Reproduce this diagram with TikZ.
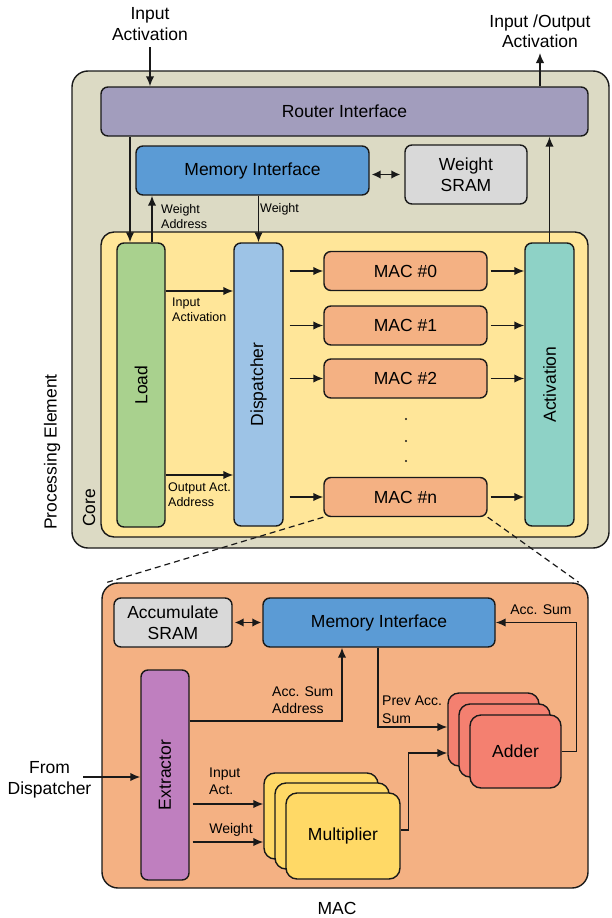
\documentclass[tikz,border=0pt]{standalone}
\usepackage{fontspec}
\setmainfont{Liberation Sans}
\usetikzlibrary{arrows.meta,calc}
\definecolor{peC}{RGB}{220,218,196}
\definecolor{coreC}{RGB}{255,230,153}
\definecolor{routerC}{RGB}{162,157,189}
\definecolor{memC}{RGB}{91,155,213}
\definecolor{sramC}{RGB}{217,217,217}
\definecolor{loadC}{RGB}{169,209,142}
\definecolor{dispC}{RGB}{157,195,230}
\definecolor{macC}{RGB}{244,177,131}
\definecolor{actC}{RGB}{142,210,198}
\definecolor{extC}{RGB}{191,127,191}
\definecolor{addC}{RGB}{244,128,112}
\definecolor{mulC}{RGB}{255,217,102}
\definecolor{lineC}{RGB}{25,25,25}
\begin{document}
\begin{tikzpicture}[x=1pt,y=-1pt,
  box/.style={draw=lineC, line width=1.4pt, rounded corners=7pt, inner sep=0pt, align=center, font=\fontsize{17.5}{21}\selectfont},
  arr/.style={draw=lineC, line width=1.5pt, -{Latex[length=10pt,width=8.5pt]}},
  darr/.style={draw=lineC, line width=1.5pt, {Latex[length=9pt,width=8.5pt]}-{Latex[length=9pt,width=8.5pt]}},
  lbl/.style={font=\fontsize{12.5}{15}\selectfont, align=left, inner sep=0pt},
  mlbl/.style={font=\fontsize{14}{17.5}\selectfont, align=left, inner sep=0pt},
  big/.style={font=\fontsize{17.5}{20.5}\selectfont, align=center, inner sep=0pt},
  dsh/.style={draw=lineC, line width=1.2pt, dash pattern=on 6pt off 4pt}]
\useasboundingbox (0,0) rectangle (611,918);

% Processing element
\node[box, fill=peC, rounded corners=16pt, minimum width=537, minimum height=477] (pe) at (340.5,309.5) {};
\node[box, fill=routerC, minimum width=487, minimum height=49] (router) at (344.5,111.5) {Router Interface};
\node[box, fill=memC, minimum width=233, minimum height=49, text height=12.5pt, text depth=2pt] (memif) at (252.5,170.5) {Memory Interface};
\node[box, fill=sramC, minimum width=122, minimum height=59] (wsram) at (466,174.5) {Weight\\SRAM};
\node[box, fill=coreC, rounded corners=13pt, minimum width=487, minimum height=305] (core) at (344.5,384.5) {};
\node[box, fill=loadC, minimum width=48, minimum height=284] (load) at (141,385) {};
\node[big, rotate=90] (loadT) at (load.center) {Load};
\node[box, fill=dispC, minimum width=49, minimum height=283] (disp) at (258.5,384.5) {};
\node[big, rotate=90] (dispT) at (disp.center) {Dispatcher};
\node[box, fill=actC, minimum width=49, minimum height=283] (act) at (549.5,384.5) {};
\node[big, rotate=90] (actT) at (act.center) {Activation};
\node[box, fill=macC, minimum width=163, minimum height=39] (mac0) at (405.5,271) {MAC \#0};
\node[box, fill=macC, minimum width=163, minimum height=39] (mac1) at (405.5,325.5) {MAC \#1};
\node[box, fill=macC, minimum width=163, minimum height=39] (mac2) at (405.5,378.5) {MAC \#2};
\node[box, fill=macC, minimum width=163, minimum height=39] (macn) at (405.5,497) {MAC \#n};
\fill[lineC] (406,419) circle (1.1) (406,441) circle (1.1) (406,461) circle (1.1);

\node[big] (inA) at (150,24) {Input\\Activation};
\node[big] (ioA) at (540,31) {Input /Output\\Activation};
\node[big, rotate=90] (peT) at (52,452) {Processing Element};
\node[big, rotate=90] (coreT) at (89,508) {Core};

\draw[arr] (inA.south |- 0,47) -- (inA.south |- router.north);
\draw[arr] (ioA.south |- router.north) -- (ioA.south |- 0,53);
\draw[arr] (router.south -| 130,0) -- (load.north -| 130,0);
\draw[arr] (load.north -| 152,0) -- (memif.south -| 152,0);
\draw[arr] (memif.south -| disp.north) -- (disp.north);
\draw[darr, shorten <=2pt, shorten >=4pt] (memif.east |- wsram.west) -- (wsram.west);
\draw[arr] (act.north) -- (act.north |- router.south);
\node[lbl, anchor=west] (wadr) at (161,216.5) {Weight\\Address};
\node[lbl, anchor=west] (wl) at (260,209) {Weight};

\draw[arr] (load.east |- 0,291) -- (disp.west |- 0,291);
\draw[arr] (load.east |- 0,475) -- (disp.west |- 0,475);
\node[lbl, anchor=west] (ial) at (172,310) {Input\\Activation};
\node[lbl, anchor=west] (oal) at (168,495) {Output Act.\\Address};
\foreach \m in {mac0,mac1,mac2,macn}{
  \draw[arr, shorten <=6pt] (disp.east |- \m.west) -- (\m.west);
  \draw[arr, shorten <=3pt] (\m.east) -- (act.west |- \m.east);
}

% MAC detail
\node[box, fill=macC, rounded corners=16pt, minimum width=486, minimum height=305] (mac) at (345,735.5) {};
\draw[dsh] (macn.south west) -- ($(mac.north west)+(6,0)$);
\draw[dsh] (macn.south east) -- ($(mac.north east)+(-10,0)$);
\node[box, fill=sramC, minimum width=118, minimum height=49] (asram) at (173,622.5) {Accumulate\\SRAM};
\node[box, fill=memC, minimum width=232, minimum height=49, text height=12.5pt, text depth=2pt] (memif2) at (379,622.5) {Memory Interface};
\node[box, fill=extC, minimum width=48, minimum height=210] (ext) at (165,775) {};
\node[big, rotate=90] (extT) at (ext.center) {Extractor};
\node[box, fill=addC, rounded corners=11pt, minimum width=91, minimum height=73] (addb) at (493.5,729.5) {};
\node[box, fill=addC, rounded corners=11pt, minimum width=91, minimum height=73] (addm) at (504.5,740.5) {};
\node[box, fill=addC, rounded corners=11pt, minimum width=91, minimum height=73] (addf) at (515.5,751.5) {Adder};
\node[box, fill=mulC, rounded corners=11pt, minimum width=114, minimum height=86] (mulb) at (321,816) {};
\node[box, fill=mulC, rounded corners=11pt, minimum width=114, minimum height=86] (mulm) at (332,826) {};
\node[box, fill=mulC, rounded corners=11pt, minimum width=114, minimum height=86] (mulf) at (343,836) {Multiplier};

\draw[darr, shorten <=2pt, shorten >=1pt] (asram.east) -- (memif2.west);
\draw[arr] (addf.east) -- ++(15,0) |- (memif2.east);
\node[mlbl] (asl) at (541,610) {Acc. Sum};
\draw[arr] (ext.east |- 0,721) -| (memif2.south -| 342,0);
\node[mlbl, anchor=west] (asal) at (272,700) {Acc. Sum\\Address};
\draw[arr] (memif2.south -| 378,0) |- (addb.west |- 0,727);
\node[mlbl, anchor=west] (pasl) at (382,709.5) {Prev Acc.\\Sum};
\draw[arr] (mulf.east |- 0,830) -- ++(8,0) |- (addb.west |- 0,753);
\draw[arr, shorten <=3pt] (ext.east |- 0,804) -- (mulb.west |- 0,804);
\draw[arr, shorten <=3pt] (ext.east |- 0,842) -- (mulb.west |- 0,842);
\node[mlbl, anchor=west] (iacl) at (209,781) {Input\\Act.};
\node[mlbl] (wml) at (231,830) {Weight};
\node[big] (fromD) at (49.5,780) {From\\Dispatcher};
\coordinate (fdS) at (83,777);
\draw[arr] (fdS) -- (ext.west |- fdS);
\node[big] (macT) at (337,908) {MAC};
\end{tikzpicture}
\end{document}
